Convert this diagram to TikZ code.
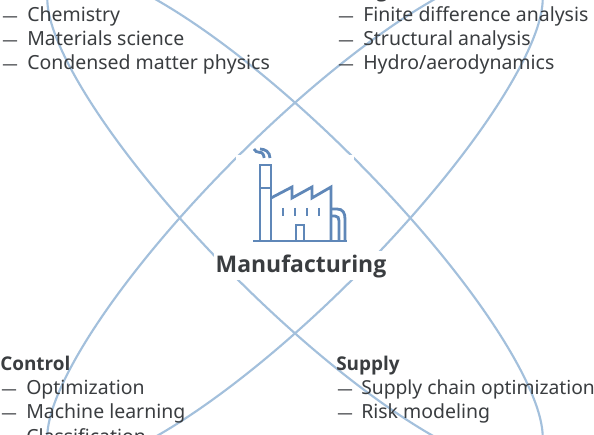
\documentclass[tikz,border=0pt]{standalone}
\usepackage{fontspec}
\setmainfont{Open Sans}
\newfontfamily\itemfont{Noto Sans}
\definecolor{ell}{HTML}{A3C0DC}
\definecolor{ico}{HTML}{5F87B8}
\definecolor{txt}{HTML}{3A3D40}
\newcommand{\dashmark}{\fontsize{11.6}{17}\selectfont —}
\tikzset{
  orbit/.style={draw=ell,line width=1.6pt},
  icon/.style={draw=ico,line width=2.1pt},
  item/.style={anchor=base west,inner sep=0pt,text=txt,font=\itemfont\fontsize{14.6}{17}\selectfont},
  itemtight/.style={item,font=\itemfont\fontsize{14.45}{17}\selectfont},
  head/.style={anchor=base west,inner sep=0pt,text=txt,font=\fontsize{14.2}{17}\selectfont\bfseries},
  title/.style={anchor=base,inner sep=0pt,text=txt,font=\fontsize{17.2}{20}\selectfont\bfseries}
}
\begin{document}
\begin{tikzpicture}[x=0.75pt,y=-0.75pt]
\useasboundingbox (0,0) rectangle (594,435);
\clip (0,0) rectangle (594,435);
\fill[white] (0,0) rectangle (594,435);
\draw[orbit,rotate around={45:(295,218)}] (295,218) ellipse [x radius=255pt,y radius=63pt];
\draw[orbit,rotate around={-45:(295,218)}] (295,218) ellipse [x radius=255pt,y radius=63pt];
\fill[white] (236,155) rectangle (354,250);
\fill[white] (214,251) rectangle (388,280);
% factory icon
\draw[icon] (253,241) -- (347,241);
\draw[icon] (260,241) -- (260,165) -- (271,165) -- (271,241);
\draw[icon] (260,188) -- (271,188);
\draw[icon] (271,198) -- (292,187) -- (292,198) -- (312,187) -- (312,198) -- (331,187) -- (331,241);
\draw[icon] (296,241) -- (296,225) -- (304,225) -- (304,241);
\draw[icon] (331,209) -- (337,209) .. controls (343,209) and (345,213) .. (345,219) -- (345,241);
\draw[icon] (331,216) -- (335,216) .. controls (338,216) and (339,218) .. (339,221) -- (339,241);
\foreach \x in {283,295,307,319} \draw[icon] (\x,208) -- (\x,216);
\draw[icon] (254,149) .. controls (256,154) and (262,151) .. (263,154) .. controls (264,156) and (264,157) .. (264,158);
\draw[icon] (260,149) .. controls (265,149) and (270,152) .. (270,158);
\node[title] (mfg) at (301,273) {Manufacturing};
% top left
\node[item] (d1) at (2,22) {\dashmark};
\node[item] (t1) at (27,22) {Chemistry};
\node[item] (d2) at (2,46) {\dashmark};
\node[item] (t2) at (27,46) {Materials science};
\node[item] (d3) at (2,70) {\dashmark};
\node[item] (t3) at (27,70) {Condensed matter physics};
% top right
\node[head] (h2) at (336,-2) {Design};
\node[item] (d4) at (338,22) {\dashmark};
\node[item] (t4) at (363,22) {Finite difference analysis};
\node[item] (d5) at (338,46) {\dashmark};
\node[item] (t5) at (363,46) {Structural analysis};
\node[item] (d6) at (338,70) {\dashmark};
\node[item] (t6) at (363,70) {Hydro/aerodynamics};
% bottom left
\node[head] (h3) at (0,371) {Control};
\node[item] (d7) at (1,395) {\dashmark};
\node[item] (t7) at (26,395) {Optimization};
\node[item] (d8) at (1,419) {\dashmark};
\node[item] (t8) at (26,419) {Machine learning};
\node[item] (t9) at (26,443) {Classification};
% bottom right
\node[head] (h4) at (336,371) {Supply};
\node[item] (d10) at (337,395) {\dashmark};
\node[itemtight] (t10) at (361,395) {Supply chain optimization};
\node[item] (d11) at (337,419) {\dashmark};
\node[item] (t11) at (361,419) {Risk modeling};
\end{tikzpicture}
\end{document}
